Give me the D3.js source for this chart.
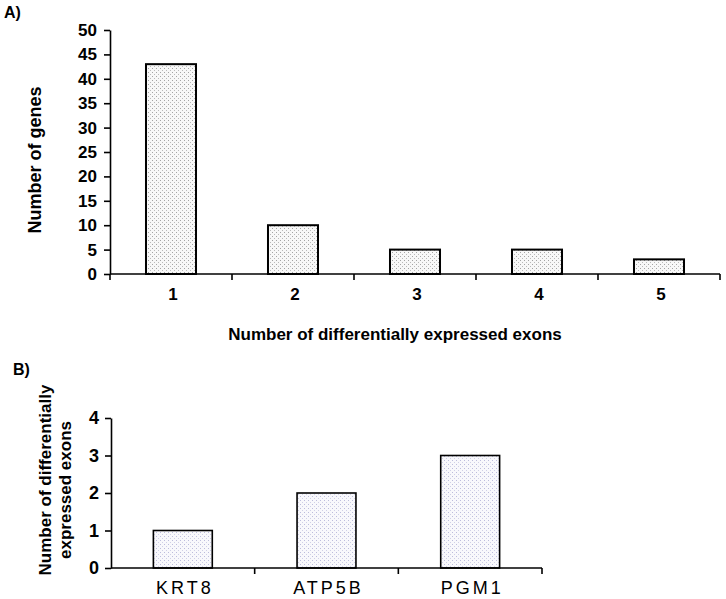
<!DOCTYPE html>
<html>
<head>
<meta charset="utf-8">
<script src="https://d3js.org/d3.v7.min.js"></script>
<style>
  body { margin: 0; background: #fff; }
  svg { display: block; font-family: "Liberation Sans", Arial, sans-serif; }
  .axis path, .axis line { stroke: #000; stroke-width: 1.6; }
  .axisA text { font-weight: bold; font-size: 17px; fill: #000; }
  .axisB text { font-weight: bold; font-size: 18px; fill: #000; }
  .xlabB text { font-size: 18px; letter-spacing: 3px; fill: #000; }
  .title { font-weight: bold; fill: #000; }
</style>
</head>
<body>
<script>
// Panel A data
var exonCounts = ["1", "2", "3", "4", "5"];
var geneCounts = [43, 10, 5, 5, 3];
var yTicksA = [0, 5, 10, 15, 20, 25, 30, 35, 40, 45, 50];

// Panel B data
var genes = ["KRT8", "ATP5B", "PGM1"];
var exonsPerGene = [1, 2, 3];
var yTicksB = [0, 1, 2, 3, 4];

var svg = d3.select("body")
            .append("svg")
            .attr("width", 726)
            .attr("height", 599);

// stipple patterns
var defs = svg.append("defs");
var patA = defs.append("pattern")
    .attr("id", "dotsA")
    .attr("width", 4).attr("height", 4)
    .attr("patternUnits", "userSpaceOnUse");
patA.append("rect").attr("width", 4).attr("height", 4).attr("fill", "#f8f8f8");
patA.append("rect").attr("x", 0).attr("y", 0).attr("width", 1).attr("height", 1).attr("fill", "#a4a4a4");
patA.append("rect").attr("x", 2).attr("y", 2).attr("width", 1).attr("height", 1).attr("fill", "#bababa");

var patB = defs.append("pattern")
    .attr("id", "dotsB")
    .attr("width", 4).attr("height", 4)
    .attr("patternUnits", "userSpaceOnUse");
patB.append("rect").attr("width", 4).attr("height", 4).attr("fill", "#f8f8fc");
patB.append("rect").attr("x", 0).attr("y", 0).attr("width", 1).attr("height", 1).attr("fill", "#bcbcdc");
patB.append("rect").attr("x", 2).attr("y", 2).attr("width", 1).attr("height", 1).attr("fill", "#d0d0e6");

// ---------- Panel A ----------
var xA = d3.scaleBand().domain(exonCounts).range([110, 720]).paddingInner(0.59).paddingOuter(0.295);
var yA = d3.scaleLinear().domain([0, 50]).range([274, 30]);

svg.selectAll(".barA")
   .data(geneCounts)
   .enter()
   .append("rect")
   .attr("class", "barA")
   .attr("x", function(d, i) { return xA(exonCounts[i]); })
   .attr("y", function(d) { return yA(d); })
   .attr("width", xA.bandwidth())
   .attr("height", function(d) { return yA(0) - yA(d); })
   .attr("fill", "url(#dotsA)")
   .attr("stroke", "#000")
   .attr("stroke-width", 2);

svg.append("g")
   .attr("class", "axis axisA")
   .attr("transform", "translate(110,0)")
   .call(d3.axisLeft(yA).tickValues(yTicksA).tickSize(6).tickSizeOuter(0).tickPadding(7));

// x axis: ticks at band boundaries
var bandEdgesA = exonCounts.map(function(c) { return xA(c) - xA.step() * xA.paddingInner() / 2 + xA.step(); });
var gxA = svg.append("g").attr("class", "axis axisA");
gxA.append("line").attr("x1", 110).attr("x2", 720).attr("y1", 274).attr("y2", 274);
gxA.selectAll(".tk").data([110].concat(bandEdgesA)).enter().append("line")
   .attr("x1", function(d) { return d; }).attr("x2", function(d) { return d; })
   .attr("y1", 274).attr("y2", 280);
gxA.selectAll("text").data(exonCounts).enter().append("text")
   .attr("x", function(d) { return xA(d) + xA.bandwidth() / 2 + 2; })
   .attr("y", 300)
   .attr("text-anchor", "middle")
   .text(function(d) { return d; });

svg.append("text")
   .attr("class", "title")
   .attr("x", 395).attr("y", 340)
   .attr("text-anchor", "middle")
   .style("font-size", "17px")
   .text("Number of differentially expressed exons");

svg.append("text")
   .attr("class", "title")
   .attr("transform", "translate(41,160) rotate(-90)")
   .attr("text-anchor", "middle")
   .style("font-size", "18px")
   .text("Number of genes");

svg.append("text")
   .attr("class", "title")
   .attr("x", 4).attr("y", 18)
   .style("font-size", "16px")
   .text("A)");

// ---------- Panel B ----------
var xB = d3.scaleBand().domain(genes).range([111, 542]).paddingInner(0.59).paddingOuter(0.295);
var yB = d3.scaleLinear().domain([0, 4]).range([568, 418]);

svg.selectAll(".barB")
   .data(exonsPerGene)
   .enter()
   .append("rect")
   .attr("class", "barB")
   .attr("x", function(d, i) { return xB(genes[i]); })
   .attr("y", function(d) { return yB(d); })
   .attr("width", xB.bandwidth())
   .attr("height", function(d) { return yB(0) - yB(d); })
   .attr("fill", "url(#dotsB)")
   .attr("stroke", "#000")
   .attr("stroke-width", 1.6);

svg.append("g")
   .attr("class", "axis axisB")
   .attr("transform", "translate(111,0)")
   .call(d3.axisLeft(yB).tickValues(yTicksB).tickFormat(d3.format("d")).tickSize(6).tickSizeOuter(0).tickPadding(6));

var bandEdgesB = genes.map(function(g) { return xB(g) - xB.step() * xB.paddingInner() / 2 + xB.step(); });
var gxB = svg.append("g").attr("class", "axis xlabB");
gxB.append("line").attr("x1", 111).attr("x2", 542).attr("y1", 568).attr("y2", 568);
gxB.selectAll(".tk").data(bandEdgesB).enter().append("line")
   .attr("x1", function(d) { return d; }).attr("x2", function(d) { return d; })
   .attr("y1", 568).attr("y2", 574);
gxB.selectAll("text").data(genes).enter().append("text")
   .attr("x", function(d) { return xB(d) + xB.bandwidth() / 2 + 2; })
   .attr("y", 594)
   .attr("text-anchor", "middle")
   .text(function(d) { return d; });

svg.append("text")
   .attr("class", "title")
   .attr("transform", "translate(51,480) rotate(-90)")
   .attr("text-anchor", "middle")
   .style("font-size", "17px")
   .text("Number of differentially");

svg.append("text")
   .attr("class", "title")
   .attr("transform", "translate(71,490) rotate(-90)")
   .attr("text-anchor", "middle")
   .style("font-size", "17px")
   .text("expressed exons");

svg.append("text")
   .attr("class", "title")
   .attr("x", 13).attr("y", 375)
   .style("font-size", "16px")
   .text("B)");
</script>
</body>
</html>
